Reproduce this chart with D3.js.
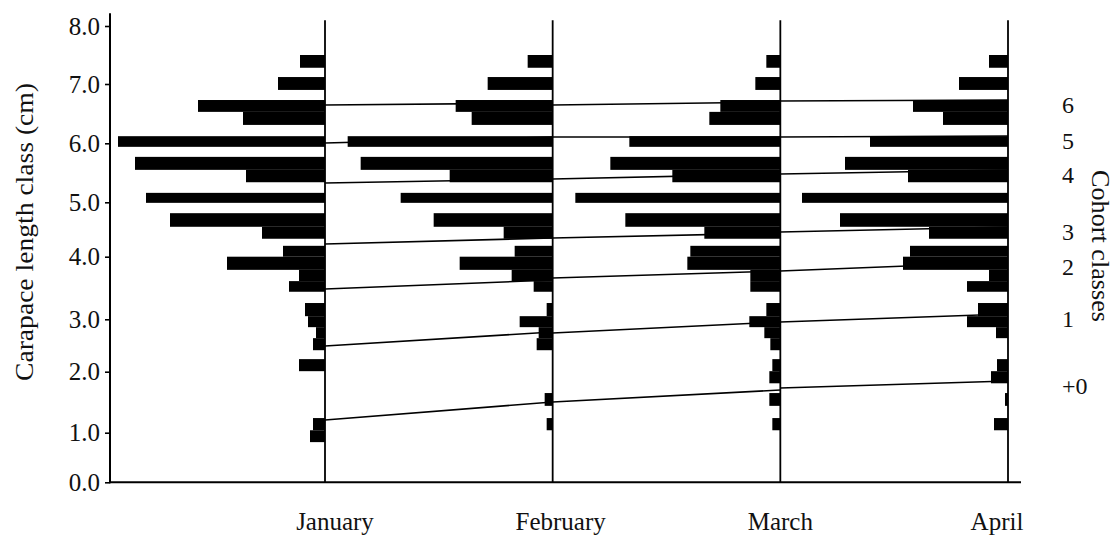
<!DOCTYPE html>
<html>
<head>
<meta charset="utf-8">
<script src="https://cdn.jsdelivr.net/npm/d3@7"></script>
<style>
  html, body { margin: 0; padding: 0; background: #fff; }
  svg { display: block; }
  text { font-family: "Liberation Serif", "DejaVu Serif", serif; fill: #111; }
</style>
</head>
<body>
<svg id="chart" width="1113" height="537"></svg>
<script>
// ---------- data ----------
const months = ["January", "February", "March", "April"];

// length classes (cm): lower and upper bounds of each drawn class row
const classLow  = [7.28, 6.90, 6.53, 6.31, 5.94, 5.55, 5.34, 4.99, 4.55, 4.33, 4.00, 3.79, 3.61, 3.44, 3.05, 2.85, 2.64, 2.41, 2.01, 1.81, 1.44, 1.04, 0.81];
const classHigh = [7.50, 7.12, 6.73, 6.53, 6.12, 5.77, 5.55, 5.16, 4.80, 4.55, 4.20, 4.00, 3.79, 3.61, 3.26, 3.05, 2.85, 2.64, 2.24, 2.01, 1.65, 1.24, 1.04];

// frequency per class, one array per month
const freqJanuary  = [2.5, 4.7, 12.7, 8.2, 20.7, 19.0, 7.9, 17.9, 15.5, 6.3, 4.2, 9.8, 2.6, 3.6, 2.0, 1.7, 0.9, 1.2, 2.6, 0, 0, 1.2, 1.5];
const freqFebruary = [2.5, 6.5, 9.7, 8.1, 20.5, 19.2, 10.3, 15.2, 11.9, 4.9, 3.8, 9.3, 4.1, 1.9, 0.6, 3.3, 1.4, 1.6, 0, 0, 0.8, 0.6, 0];
const freqMarch    = [1.4, 2.5, 6.0, 7.1, 15.1, 17.0, 10.8, 20.5, 15.5, 7.6, 9.0, 9.3, 3.0, 3.0, 1.4, 3.1, 1.6, 1.0, 0.8, 1.1, 1.1, 0.8, 0];
const freqApril    = [1.9, 4.9, 9.5, 6.5, 13.8, 16.3, 10.0, 20.6, 16.8, 7.9, 9.8, 10.5, 1.9, 4.1, 3.0, 4.1, 1.2, 0, 1.1, 1.7, 0.3, 1.4, 0];

// cohort boundary lines (cm) : start / end of each month-to-month segment
const cohortLabels = ["6", "5", "4", "3", "2", "1", "+0"];
const cohortStartJanFeb = [6.646, 6.005, 5.327, 4.233, 3.484, 2.490, 1.208];
const cohortEndJanFeb   = [6.680, 6.106, 5.395, 4.344, 3.628, 2.758, 1.503];
const cohortStartFebMar = [6.646, 6.106, 5.395, 4.344, 3.660, 2.739, 1.503];
const cohortEndFebMar   = [6.696, 6.106, 5.480, 4.436, 3.772, 2.948, 1.700];
const cohortStartMarApr = [6.713, 6.106, 5.480, 4.454, 3.772, 2.948, 1.733];
const cohortEndMarApr   = [6.730, 6.123, 5.547, 4.546, 3.915, 3.085, 1.848];

const yTicks = [0, 1, 2, 3, 4, 5, 6, 7, 8];

// ---------- layout ----------
const svg = d3.select("#chart");
const W = 1113, H = 537;
svg.append("rect").attr("width", W).attr("height", H).attr("fill", "#fff");

// the printed axis is not evenly spaced: piecewise linear scale through tick marks
const y = d3.scaleLinear()
  .domain(yTicks)
  .range([482.3, 432.7, 371.7, 319.3, 256.7, 202.3, 143.3, 84, 26]);

const xMonth = d3.scaleLinear().domain([0, 3]).range([325, 1008]);
const len = d3.scaleLinear().domain([0, 10]).range([0, 100]);

const freqs = [freqJanuary, freqFebruary, freqMarch, freqApril];

// bars
const barData = [];
freqs.forEach((arr, m) => {
  arr.forEach((v, i) => {
    if (v > 0) barData.push({ m, lo: classLow[i], hi: classHigh[i], v });
  });
});
svg.append("g").selectAll("rect").data(barData).join("rect")
  .attr("x", d => xMonth(d.m) - len(d.v))
  .attr("y", d => y(d.hi))
  .attr("width", d => len(d.v))
  .attr("height", d => y(d.lo) - y(d.hi))
  .attr("fill", "#000");

// cohort lines
const segs = [
  [cohortStartJanFeb, cohortEndJanFeb],
  [cohortStartFebMar, cohortEndFebMar],
  [cohortStartMarApr, cohortEndMarApr]
];
const lineData = [];
segs.forEach(([s, e], k) => {
  s.forEach((v, i) => lineData.push({ k, a: v, b: e[i] }));
});
svg.append("g").selectAll("line").data(lineData).join("line")
  .attr("x1", d => xMonth(d.k))
  .attr("x2", d => xMonth(d.k + 1))
  .attr("y1", d => y(d.a))
  .attr("y2", d => y(d.b))
  .attr("stroke", "#000")
  .attr("stroke-width", 1.6);

// month vertical lines
svg.append("g").selectAll("line").data(months).join("line")
  .attr("x1", (d, i) => xMonth(i))
  .attr("x2", (d, i) => xMonth(i))
  .attr("y1", y(0))
  .attr("y2", y(8.1))
  .attr("stroke", "#000")
  .attr("stroke-width", 1.8);

// x baseline
svg.append("line")
  .attr("x1", 110).attr("x2", 1021)
  .attr("y1", y(0)).attr("y2", y(0))
  .attr("stroke", "#000").attr("stroke-width", 2);

// y axis
const yAxis = d3.axisLeft(y).tickValues(yTicks).tickFormat(d3.format(".1f")).tickSize(5).tickPadding(5);
const gy = svg.append("g").attr("transform", "translate(110,0)").call(yAxis);
gy.select(".domain").remove();
gy.selectAll(".tick line").attr("stroke", "#000").attr("stroke-width", 1.6);
gy.selectAll(".tick text")
  .style("font-family", '"Liberation Serif", serif')
  .style("font-size", "25px")
  .attr("fill", "#111");
svg.append("line")
  .attr("x1", 110).attr("x2", 110)
  .attr("y1", y(8.22)).attr("y2", y(0) + 1)
  .attr("stroke", "#000").attr("stroke-width", 2);

// month labels
const labelShift = [10, 8, 0, -11];
svg.append("g").selectAll("text").data(months).join("text")
  .attr("x", (d, i) => xMonth(i) + labelShift[i])
  .attr("y", 530)
  .attr("text-anchor", "middle")
  .style("font-size", "25px")
  .text(d => d);

// y title
svg.append("text")
  .attr("transform", "translate(24,232) rotate(-90)")
  .attr("text-anchor", "middle")
  .attr("dominant-baseline", "central")
  .attr("textLength", 298)
  .attr("lengthAdjust", "spacingAndGlyphs")
  .style("font-size", "25px")
  .text("Carapace length class (cm)");

// cohort class labels
svg.append("g").selectAll("text").data(cohortLabels).join("text")
  .attr("x", 1062)
  .attr("y", (d, i) => y(cohortEndMarApr[i]) + 5)
  .attr("dominant-baseline", "central")
  .style("font-size", "24px")
  .text(d => d);

svg.append("text")
  .attr("transform", "translate(1100,246) rotate(90)")
  .attr("text-anchor", "middle")
  .attr("dominant-baseline", "central")
  .attr("textLength", 152)
  .attr("lengthAdjust", "spacingAndGlyphs")
  .style("font-size", "25px")
  .text("Cohort classes");
</script>
</body>
</html>
